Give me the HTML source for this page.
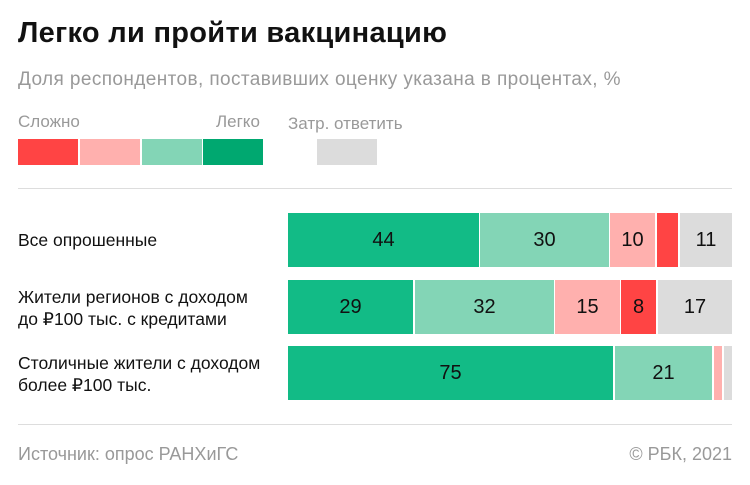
<html><head><style>
body{margin:0;width:750px;height:485px;background:#fff;font-family:"Liberation Sans",sans-serif;position:relative;overflow:hidden}
div{position:absolute;white-space:nowrap}
.t{color:#999;font-size:17px}
.b{height:54px;top:0;font-size:20px;color:#111;display:flex;align-items:center;justify-content:center}
.l{font-size:17.5px;color:#111;left:18px;line-height:22px}
</style></head><body>
<div style="left:18px;top:17px;font-size:29px;font-weight:bold;color:#111;letter-spacing:0.3px">Легко ли пройти вакцинацию</div>
<div class="t" style="left:18px;top:69px;font-size:19px;letter-spacing:0.4px">Доля респондентов, поставивших оценку указана в процентах, %</div>
<div class="t" style="left:18px;top:112px">Сложно</div>
<div class="t" style="left:216px;top:112px">Легко</div>
<div class="t" style="left:288px;top:114px">Затр. ответить</div>
<div style="left:18px;top:139px;width:60px;height:26px;background:#ff4444"></div>
<div style="left:80px;top:139px;width:60px;height:26px;background:#ffb0ae"></div>
<div style="left:142px;top:139px;width:60px;height:26px;background:#83d5b6"></div>
<div style="left:203px;top:139px;width:60px;height:26px;background:#00a870"></div>
<div style="left:317px;top:139px;width:60px;height:26px;background:#dcdcdc"></div>
<div style="left:18px;top:188px;width:714px;height:1px;background:#ddd"></div>
<div class="l" style="top:229px">Все опрошенные</div>
<div class="l" style="top:286px">Жители регионов с доходом<br>до ₽100 тыс. с кредитами</div>
<div class="l" style="top:352px">Столичные жители с доходом<br>более ₽100 тыс.</div>
<div style="left:0;top:213px;width:750px;height:54px">
<div class="b" style="left:288px;width:191px;background:#12bb86">44</div>
<div class="b" style="left:480px;width:129px;background:#83d5b6">30</div>
<div class="b" style="left:610px;width:45px;background:#ffb0ae">10</div>
<div class="b" style="left:657px;width:21px;background:#ff4444"></div>
<div class="b" style="left:680px;width:52px;background:#dcdcdc">11</div>
</div>
<div style="left:0;top:280px;width:750px;height:54px">
<div class="b" style="left:288px;width:125px;background:#12bb86">29</div>
<div class="b" style="left:415px;width:139px;background:#83d5b6">32</div>
<div class="b" style="left:555px;width:65px;background:#ffb0ae">15</div>
<div class="b" style="left:621px;width:35px;background:#ff4444">8</div>
<div class="b" style="left:658px;width:74px;background:#dcdcdc">17</div>
</div>
<div style="left:0;top:346px;width:750px;height:54px">
<div class="b" style="left:288px;width:325px;background:#12bb86">75</div>
<div class="b" style="left:615px;width:97px;background:#83d5b6">21</div>
<div class="b" style="left:714px;width:8px;background:#ffb0ae"></div>
<div class="b" style="left:724px;width:8px;background:#dcdcdc"></div>
</div>
<div style="left:18px;top:424px;width:714px;height:1px;background:#ddd"></div>
<div class="t" style="left:18px;top:444px;font-size:18px">Источник: опрос РАНХиГС</div>
<div class="t" style="right:18px;top:444px;font-size:18px">© РБК, 2021</div>
</body></html>
